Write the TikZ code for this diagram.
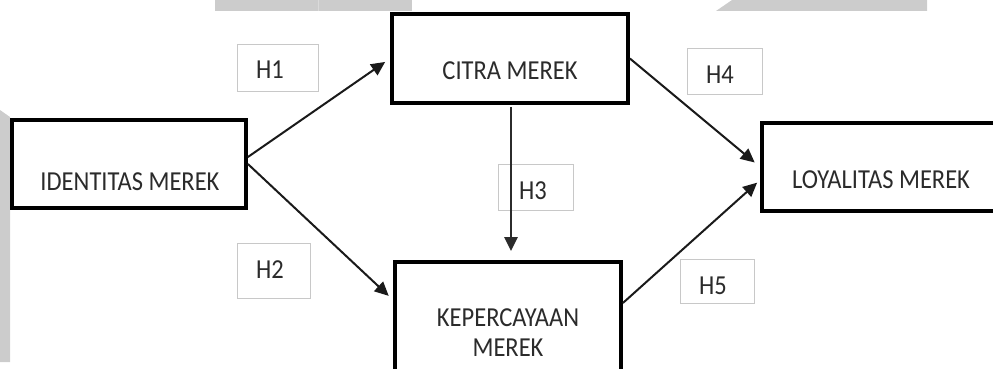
\documentclass[tikz,border=0pt]{standalone}
\usepackage{fontspec}
\setmainfont{Carlito}
\usetikzlibrary{arrows.meta,calc}
\definecolor{ink}{HTML}{2B2B2B}
\definecolor{greyfill}{HTML}{CCCCCC}
\definecolor{seamgrey}{HTML}{DADADA}
\definecolor{hairline}{HTML}{C8C8C8}
\definecolor{arrowink}{HTML}{1A1A1A}
\newcommand{\tallcaps}[1]{\scalebox{1}[1.12]{#1}}

\begin{document}
\begin{tikzpicture}[x=1pt,y=-1pt,
  construct/.style={draw=black, line width=3.8pt, fill=white, inner sep=0pt},
  hypbox/.style={draw=hairline, line width=1pt, fill=white, inner sep=0pt},
  caption/.style={inner sep=0pt, text height=17pt, text depth=0pt, text=ink,
    font=\fontsize{24.5}{29}\selectfont},
  link/.style={draw=arrowink, line width=2pt, -{Triangle[length=14pt,width=13pt]}}
]
\useasboundingbox (0,0) rectangle (993,369);

% decorative grey shapes along the edges
\fill[greyfill] (215,0) rectangle (412,11);
\draw[seamgrey, line width=0.8pt] (318.5,0) -- (318.5,11);
\fill[greyfill] (716,11) -- (732,0) -- (927,0) -- (927,11) -- cycle;
\fill[greyfill] (0,110) -- (10,117) -- (10,362) -- (0,362) -- cycle;

% constructs
\node[construct, minimum width=234pt, minimum height=88pt] (ident) at (129,164) {};
\node[construct, minimum width=236pt, minimum height=89pt] (citra) at (510,58.5) {};
\node[construct, minimum width=226pt, minimum height=116pt] (keper) at (508,320) {};
\node[construct, minimum width=236pt, minimum height=88pt] (loyal) at (880,167) {};

\node[caption] (identtxt) at (130,182) {\tallcaps{IDENTITAS MEREK}};
\node[caption] (citratxt) at (510,71) {\tallcaps{CITRA MEREK}};
\node[caption] (kepertxta) at (508,318) {\tallcaps{KEPERCAYAAN}};
\node[caption] (kepertxtb) at (508,348) {\tallcaps{MEREK}};
\node[caption] (loyaltxt) at (881,180) {\tallcaps{LOYALITAS MEREK}};

% hypothesis labels
\node[hypbox, minimum width=81pt, minimum height=47pt] (h1box) at (278,68) {};
\node[hypbox, minimum width=73pt, minimum height=55pt] (h2box) at (274,271) {};
\node[hypbox, minimum width=75pt, minimum height=46pt] (h3box) at (536,187.5) {};
\node[hypbox, minimum width=75pt, minimum height=46pt] (h4box) at (725,71.5) {};
\node[hypbox, minimum width=74pt, minimum height=44pt] (h5box) at (717.5,281.5) {};

\node[caption] (h1) at (270,70) {\tallcaps{H1}};
\node[caption] (h2) at (270,270) {\tallcaps{H2}};
\node[caption] (h3) at (533,191) {\tallcaps{H3}};
\node[caption] (h4) at (720,75.5) {\tallcaps{H4}};
\node[caption] (h5) at (713,285.5) {\tallcaps{H5}};

% paths between constructs
\draw[link, shorten >=6pt] ($(ident.east)+(0,-7)$) -- (citra.west);
\draw[link, shorten >=6pt] (ident.east) -- ($(keper.west)+(0,-20)$);
\path (citra.south) ++(1,0) coordinate (h3top);
\draw[link, line width=2.4pt, draw=ink, shorten <=2pt, shorten >=9pt] (h3top) -- (h3top |- keper.north);
\draw[link, shorten >=7pt] (citra.east) -- (loyal.west);
\draw[link, shorten >=4pt] ($(keper.east)+(0,-17)$) -- ($(loyal.west)+(0,13)$);
\end{tikzpicture}
\end{document}
